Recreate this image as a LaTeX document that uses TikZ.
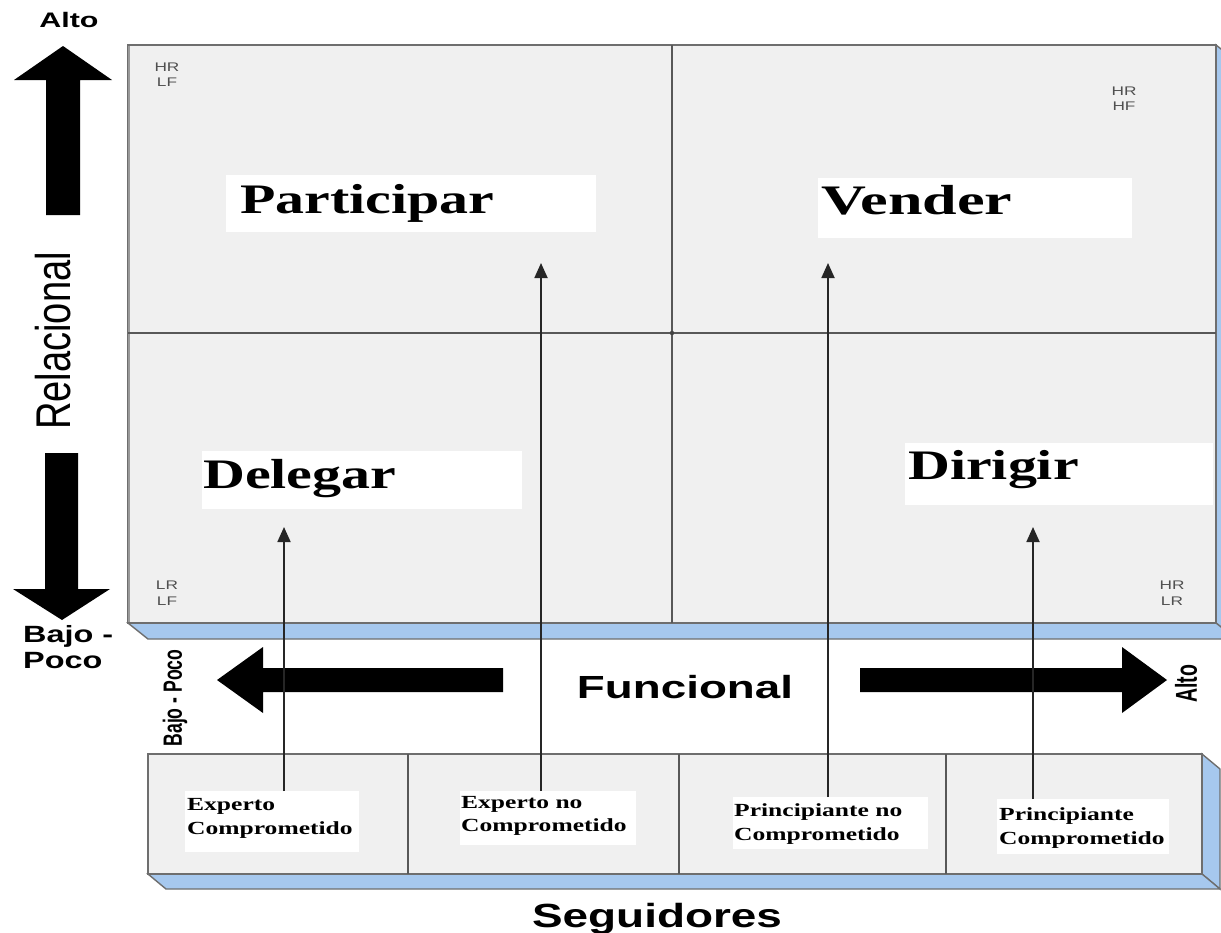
\documentclass[tikz,border=0pt]{standalone}
\usepackage{fontspec}
\setmainfont{Liberation Serif}
\setsansfont{Liberation Sans}
\usetikzlibrary{arrows.meta}
\definecolor{panel}{HTML}{F0F0F0}
\definecolor{edge}{HTML}{6E6E6E}
\definecolor{sideblue}{HTML}{A6C8EE}
\definecolor{smallgray}{HTML}{505050}
\newcommand{\sx}[2][1.38]{\scalebox{#1}[1]{#2}}
\begin{document}
\begin{tikzpicture}[x=1pt,y=-1pt,
  txt/.style={inner sep=0pt,anchor=base west},
  ctxt/.style={inner sep=0pt,anchor=base},
  small/.style={inner sep=0pt,anchor=base,text=smallgray,font=\sffamily\fontsize{12.5}{13}\selectfont},
  whitebox/.style={fill=white,draw=none,inner sep=0pt,anchor=north west},
  face/.style={fill=panel,draw=edge,line width=1.6pt},
  blueface/.style={fill=sideblue,draw=edge,line width=1.4pt},
  divider/.style={draw=edge!80!black,line width=1.6pt},
  conn/.style={draw=black!85,line width=1.8pt,-{Triangle[length=15pt,width=13pt]}},
  bigarrow/.style={fill=black}]
\useasboundingbox (0,0) rectangle (1221,932);
\clip (0,0) rectangle (1221,932);
\fill[white] (0,0) rectangle (1221,932);

% ---- main panel
\draw[blueface] (1216,45) -- (1236,61) -- (1236,639) -- (1216,623) -- cycle;
\draw[blueface] (128,623) -- (1216,623) -- (1236,639) -- (148,639) -- cycle;
\draw[face] (128,45) rectangle (1216,623);
\draw[draw=edge!70,line width=2.4pt] (129,46) -- (129,622);
\draw[divider] (672,45) -- (672,623);
\draw[divider] (128,333) -- (1216,333);
\fill[edge!60!black] (672,333) circle (2.2pt);

% ---- corner labels
\node[small] (hr1) at (167,71) {\sx{HR}};
\node[small] (lf1) at (167,86) {\sx{LF}};
\node[small] (hr2) at (1124,95) {\sx{HR}};
\node[small] (hf2) at (1124,110) {\sx{HF}};
\node[small] (lr3) at (167,589) {\sx{LR}};
\node[small] (lf3) at (167,605) {\sx{LF}};
\node[small] (hr4) at (1172,589) {\sx{HR}};
\node[small] (lr4) at (1172,605) {\sx{LR}};

% ---- quadrant labels
\node[whitebox,minimum width=370pt,minimum height=57pt] (bPart) at (226,175) {};
\node[txt] (tPart) at (240,213) {\sx{\fontsize{42}{42}\selectfont\bfseries Participar}};
\node[whitebox,minimum width=314pt,minimum height=60pt] (bVend) at (818,178) {};
\node[txt] (tVend) at (821,214) {\sx[1.48]{\fontsize{42}{42}\selectfont\bfseries Vender}};
\node[whitebox,minimum width=320pt,minimum height=58pt] (bDel) at (202,451) {};
\node[txt] (tDel) at (203,488) {\sx{\fontsize{42}{42}\selectfont\bfseries Delegar}};
\node[whitebox,minimum width=308pt,minimum height=62pt] (bDir) at (905,443) {};
\node[txt] (tDir) at (908,479) {\sx{\fontsize{42}{42}\selectfont\bfseries Dirigir}};

% ---- axis arrows
\fill[bigarrow] (63,46) -- (112,80) -- (80,80) -- (80,215) -- (46,215) -- (46,80) -- (14,80) -- cycle;
\fill[bigarrow] (62,620) -- (110,589) -- (78,589) -- (78,453) -- (45,453) -- (45,589) -- (13,589) -- cycle;
\fill[bigarrow] (217,680) -- (263,647) -- (263,668) -- (503,668) -- (503,692) -- (263,692) -- (263,713) -- cycle;
\fill[bigarrow] (1167,680) -- (1122,647) -- (1122,668) -- (860,668) -- (860,692) -- (1122,692) -- (1122,713) -- cycle;

% ---- axis texts
\node[ctxt] (alto1) at (69,27) {\sx[1.45]{\sffamily\bfseries\fontsize{21}{21}\selectfont Alto}};
\node[inner sep=0pt] (rel) at (53,341) {\sx[1.28]{\rotatebox{90}{\sffamily\fontsize{38.1}{38}\selectfont Relacional}}};
\node[txt] (bajo1) at (23,642) {\sx{\sffamily\bfseries\fontsize{23.5}{24}\selectfont Bajo -}};
\node[txt] (poco1) at (23,668) {\sx{\sffamily\bfseries\fontsize{23.5}{24}\selectfont Poco}};
\node[inner sep=0pt] (bajo2) at (175,698) {\sx[1.5]{\rotatebox{90}{\sffamily\bfseries\fontsize{17.6}{18}\selectfont Bajo - Poco}}};
\node[inner sep=0pt] (alto2) at (1186,684) {\sx[1.55]{\rotatebox{90}{\sffamily\bfseries\fontsize{19.5}{20}\selectfont Alto}}};
\node[ctxt] (func) at (685,698) {\sx[1.43]{\sffamily\bfseries\fontsize{32}{32}\selectfont Funcional}};
\node[ctxt] (seg) at (657,927) {\sx[1.37]{\sffamily\bfseries\fontsize{33.5}{34}\selectfont Seguidores}};

% ---- followers boxes
\draw[blueface] (1202,754) -- (1220,769) -- (1220,889) -- (1202,874) -- cycle;
\draw[blueface] (148,874) -- (1202,874) -- (1220,889) -- (166,889) -- cycle;
\draw[face] (148,754) rectangle (1202,874);
\draw[divider] (408,754) -- (408,874);
\draw[divider] (679,754) -- (679,874);
\draw[divider] (946,754) -- (946,874);

\node[whitebox,minimum width=174pt,minimum height=61pt] (L1) at (185,791) {};
\node[txt] (l1a) at (187,810) {\sx{\bfseries\fontsize{18.5}{19}\selectfont Experto}};
\node[txt] (l1b) at (187,834) {\sx{\bfseries\fontsize{18.5}{19}\selectfont Comprometido}};
\node[whitebox,minimum width=176pt,minimum height=54pt] (L2) at (460,791) {};
\node[txt] (l2a) at (461,808) {\sx{\bfseries\fontsize{18.5}{19}\selectfont Experto no}};
\node[txt] (l2b) at (461,831) {\sx{\bfseries\fontsize{18.5}{19}\selectfont Comprometido}};
\node[whitebox,minimum width=195pt,minimum height=52pt] (L3) at (733,797) {};
\node[txt] (l3a) at (734,816) {\sx{\bfseries\fontsize{18.5}{19}\selectfont Principiante no}};
\node[txt] (l3b) at (734,840) {\sx{\bfseries\fontsize{18.5}{19}\selectfont Comprometido}};
\node[whitebox,minimum width=172pt,minimum height=55pt] (L4) at (997,799) {};
\node[txt] (l4a) at (999,820) {\sx{\bfseries\fontsize{18.5}{19}\selectfont Principiante}};
\node[txt] (l4b) at (999,844) {\sx{\bfseries\fontsize{18.5}{19}\selectfont Comprometido}};

% ---- connectors
\coordinate (a1) at (284,527);
\coordinate (a2) at (541,263);
\coordinate (a3) at (828,263);
\coordinate (a4) at (1033,527);
\draw[conn] (a1 |- L1.north) -- (a1);
\draw[conn] (a2 |- L2.north) -- (a2);
\draw[conn] (a3 |- L3.north) -- (a3);
\draw[conn] (a4 |- L4.north) -- (a4);
\end{tikzpicture}
\end{document}
